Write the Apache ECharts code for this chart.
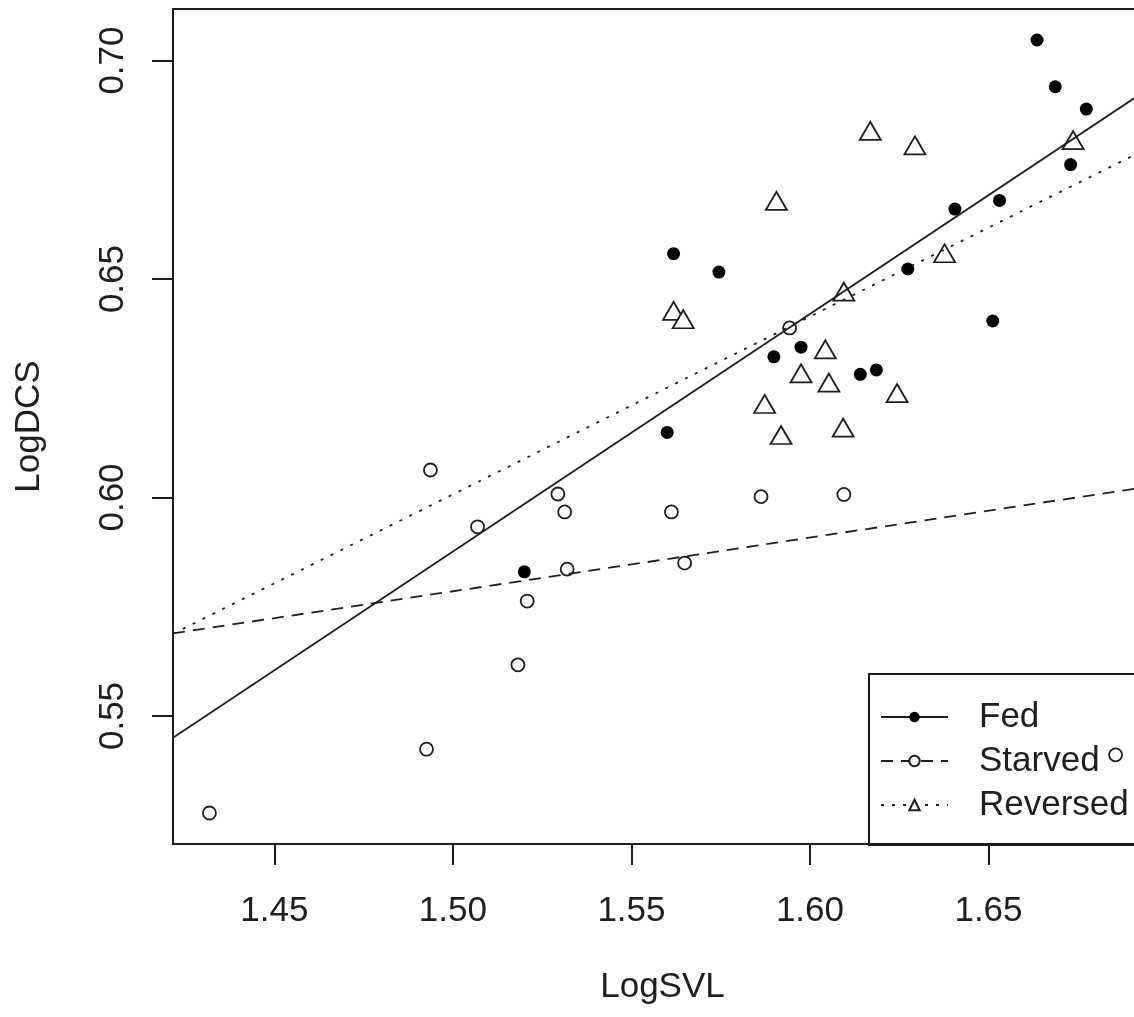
<!DOCTYPE html>
<html>
<head>
<meta charset="utf-8">
<script src="https://cdn.jsdelivr.net/npm/echarts@6/dist/echarts.min.js"></script>
<style>
html, body { margin: 0; padding: 0; background: #fff; }
#main { width: 1134px; height: 1017px; }
</style>
</head>
<body>
<div id="main"></div>
<script>
// LogSVL (x) vs LogDCS (y)
var fedPoints = [
    [1.6636, 0.7047], [1.6687, 0.6940], [1.6774, 0.6889], [1.6730, 0.6762],
    [1.6406, 0.6660], [1.6531, 0.6680], [1.6274, 0.6523], [1.6512, 0.6404],
    [1.5618, 0.6558], [1.5745, 0.6516], [1.5899, 0.6322], [1.5975, 0.6344],
    [1.6141, 0.6282], [1.6186, 0.6292], [1.5600, 0.6149], [1.5200, 0.5830]
];
var starvedPoints = [
    [1.4937, 0.6063], [1.5069, 0.5933], [1.5294, 0.6008], [1.5313, 0.5967],
    [1.5612, 0.5967], [1.5320, 0.5836], [1.5649, 0.5850], [1.5208, 0.5763],
    [1.5182, 0.5617], [1.5863, 0.6002], [1.6095, 0.6007], [1.5943, 0.6388],
    [1.4926, 0.5424], [1.4318, 0.5278], [1.6856, 0.5411]
];
var reversedPoints = [
    [1.6169, 0.6839], [1.6294, 0.6806], [1.5906, 0.6679], [1.6737, 0.6818],
    [1.6377, 0.6559], [1.6095, 0.6471], [1.5618, 0.6427], [1.5645, 0.6408],
    [1.6043, 0.6339], [1.5975, 0.6284], [1.6053, 0.6263], [1.5873, 0.6214],
    [1.6244, 0.6239], [1.5919, 0.6143], [1.6093, 0.6160]
];
// fitted lines, end points at the plot edges
var fedFit = [[1.4216, 0.5450], [1.6958, 0.6941]];
var starvedFit = [[1.4216, 0.5689], [1.6958, 0.6026]];
var reversedFit = [[1.4216, 0.5688], [1.6958, 0.6804]];

var xTicks = [1.45, 1.50, 1.55, 1.60, 1.65];
var yTicks = [0.55, 0.60, 0.65, 0.70];
var xRange = [1.4216, 1.6958];
var yRange = [0.5207, 0.7118];

var font = 'Liberation Sans, Arial, sans-serif';
var ink = '#1e1e1e';

var myChart = echarts.init(document.getElementById('main'));

var option = {
    backgroundColor: '#fff',
    animation: false,
    textStyle: { fontFamily: font },
    grid: {
        show: true,
        left: 173, top: 9, width: 979, height: 835,
        outerBoundsMode: 'none',
        containLabel: false,
        borderColor: ink, borderWidth: 2,
        backgroundColor: 'transparent'
    },
    legend: {
        orient: 'vertical',
        left: 869, top: 674,
        padding: [25, 40, 22, 11],
        itemWidth: 67, itemHeight: 13, itemGap: 8,
        borderColor: ink, borderWidth: 2,
        backgroundColor: 'transparent',
        selectedMode: false,
        data: ['Fed', 'Starved', 'Reversed'],
        textStyle: { fontSize: 35, color: ink, fontFamily: font, padding: [0, 0, 0, 26], lineHeight: 36 }
    },
    xAxis: {
        type: 'value',
        min: xRange[0], max: xRange[1],
        name: 'LogSVL', nameLocation: 'middle', nameGap: 126,
        nameTextStyle: { fontSize: 35, color: ink, fontFamily: font },
        axisLine: { show: false },
        splitLine: { show: false },
        axisTick: { show: true, length: 21, lineStyle: { color: ink, width: 2 }, customValues: xTicks },
        axisLabel: {
            fontSize: 35, color: ink, margin: 50, customValues: xTicks,
            formatter: function (v) { return v.toFixed(2); }
        }
    },
    yAxis: {
        type: 'value',
        min: yRange[0], max: yRange[1],
        name: 'LogDCS', nameLocation: 'middle', nameGap: 126,
        nameTextStyle: { fontSize: 35, color: ink, fontFamily: font },
        axisLine: { show: false },
        splitLine: { show: false },
        axisTick: { show: true, length: 21, lineStyle: { color: ink, width: 2 }, customValues: yTicks },
        axisLabel: {
            fontSize: 35, color: ink, margin: 42, rotate: 90, customValues: yTicks,
            formatter: function (v) { return v.toFixed(2); }
        }
    },
    series: [
        {
            name: 'Fed pts', type: 'scatter', data: fedPoints,
            symbol: 'circle', symbolSize: 13,
            itemStyle: { color: '#000', opacity: 1 }
        },
        {
            name: 'Starved pts', type: 'scatter', data: starvedPoints,
            symbol: 'circle', symbolSize: 13,
            itemStyle: { color: '#fff', borderColor: ink, borderWidth: 1.8, opacity: 1 }
        },
        {
            name: 'Reversed pts', type: 'scatter', data: reversedPoints,
            symbol: 'triangle', symbolSize: [21, 18],
            itemStyle: { color: '#fff', borderColor: ink, borderWidth: 1.8, opacity: 1 }
        },
        {
            name: 'Fed', type: 'line', data: fedFit,
            symbol: 'circle', showSymbol: false, silent: true,
            itemStyle: { color: '#000' },
            lineStyle: { color: ink, width: 1.8, type: 'solid' }
        },
        {
            name: 'Starved', type: 'line', data: starvedFit,
            symbol: 'circle', showSymbol: false, silent: true,
            itemStyle: { color: '#fff', borderColor: ink, borderWidth: 1.5 },
            lineStyle: { color: ink, width: 1.8, type: [12, 8] }
        },
        {
            name: 'Reversed', type: 'line', data: reversedFit,
            symbol: 'triangle', showSymbol: false, silent: true,
            itemStyle: { color: '#fff', borderColor: ink, borderWidth: 1.5 },
            lineStyle: { color: ink, width: 1.8, type: [3, 8] }
        }
    ]
};

myChart.setOption(option);
</script>
</body>
</html>
